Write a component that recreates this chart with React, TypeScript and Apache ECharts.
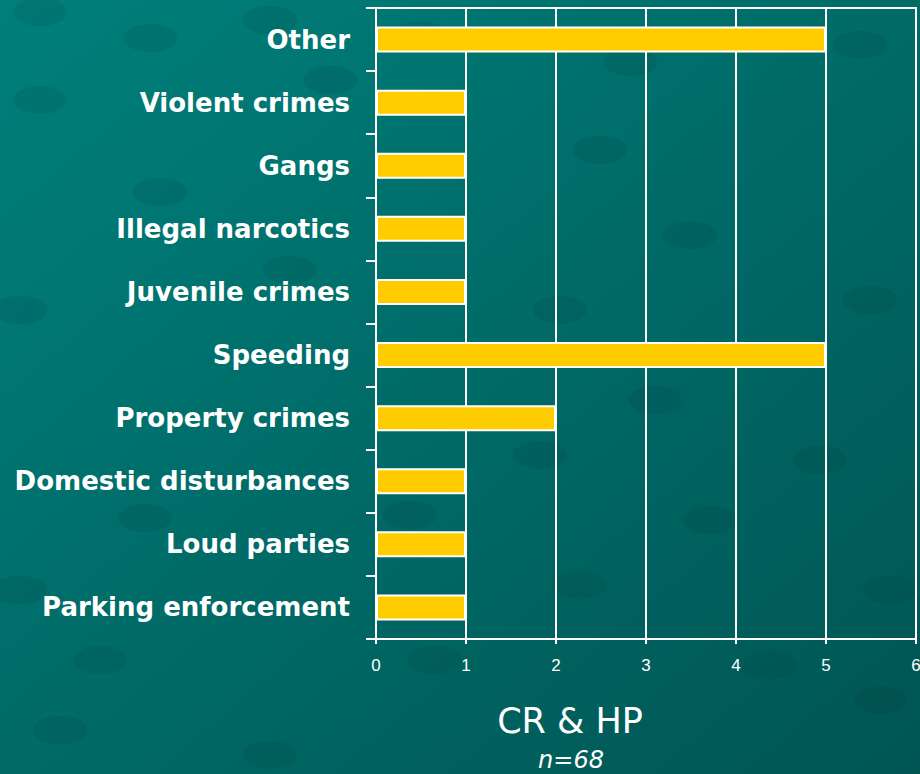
import React, { useEffect, useRef } from "react";
import * as echarts from "echarts";

const categories = [
  "Parking enforcement",
  "Loud parties",
  "Domestic disturbances",
  "Property crimes",
  "Speeding",
  "Juvenile crimes",
  "Illegal narcotics",
  "Gangs",
  "Violent crimes",
  "Other",
];
const values = [1, 1, 1, 2, 5, 1, 1, 1, 1, 5];
const titleText = "CR & HP";
const subtitleText = "n=68";

const dots: [number, number][] = [
  [40, 12], [150, 38], [270, 20], [420, 35], [630, 62], [860, 45],
  [40, 100], [160, 192], [330, 80], [600, 150], [690, 235], [870, 300],
  [20, 310], [290, 270], [560, 310], [655, 400], [820, 460], [540, 455],
  [710, 520], [410, 515], [145, 518], [580, 585], [890, 590], [20, 590],
  [100, 660], [435, 660], [770, 665], [270, 755], [880, 700], [60, 730],
];

export default function App() {
  const ref = useRef<HTMLDivElement>(null);
  useEffect(() => {
    if (!ref.current) return;
    const chart = echarts.init(ref.current, undefined, { renderer: "svg" });
    const graphics: any[] = dots.map(([x, y]) => ({
      type: "ellipse",
      z: -10,
      silent: true,
      shape: { cx: x, cy: y, rx: 27, ry: 14 },
      style: { fill: "rgba(0,55,55,0.13)" },
    }));
    graphics.push(
      {
        type: "text",
        x: 570,
        y: 721,
        style: {
          text: titleText,
          fill: "#ffffff",
          font: "normal 35px 'DejaVu Sans'",
          textAlign: "center",
          textVerticalAlign: "middle",
        },
      },
      {
        type: "text",
        x: 571,
        y: 760,
        style: {
          text: subtitleText,
          fill: "#ffffff",
          font: "italic 24px 'DejaVu Sans'",
          textAlign: "center",
          textVerticalAlign: "middle",
        },
      }
    );
    chart.setOption({
      animation: false,
      backgroundColor: new echarts.graphic.LinearGradient(0, 0, 1, 1, [
        { offset: 0, color: "#00807B" },
        { offset: 1, color: "#005553" },
      ]),
      grid: {
        left: 376,
        right: 4,
        top: 8,
        bottom: 135,
        outerBoundsMode: "none",
        containLabel: false,
        show: true,
        borderColor: "#ffffff",
        borderWidth: 2,
        backgroundColor: "transparent",
      },
      xAxis: {
        type: "value",
        min: 0,
        max: 6,
        interval: 1,
        axisLine: { show: true, lineStyle: { color: "#ffffff", width: 2 } },
        axisTick: { show: true, length: 5, lineStyle: { color: "#ffffff", width: 2 } },
        splitLine: { show: true, lineStyle: { color: "#ffffff", width: 2 } },
        axisLabel: {
          color: "#ffffff",
          fontFamily: "'Liberation Sans', Arial, sans-serif",
          fontSize: 17,
          margin: 18,
        },
      },
      yAxis: {
        type: "category",
        data: categories,
        axisLine: { show: true, lineStyle: { color: "#ffffff", width: 2 } },
        axisTick: { show: true, length: 10, lineStyle: { color: "#ffffff", width: 2 } },
        axisLabel: {
          color: "#ffffff",
          fontFamily: "'DejaVu Sans', sans-serif",
          fontWeight: "bold",
          fontSize: 26,
          margin: 26,
        },
        splitLine: { show: false },
      },
      series: [
        {
          type: "bar",
          data: values,
          barWidth: 26,
          itemStyle: { color: "#FFCC00", borderColor: "#ffffff", borderWidth: 2 },
        },
      ],
      graphic: graphics,
    });
    return () => chart.dispose();
  }, []);
  return (
    <div
      ref={ref}
      style={{ position: "fixed", left: 0, top: 0, width: 920, height: 774 }}
    />
  );
}
